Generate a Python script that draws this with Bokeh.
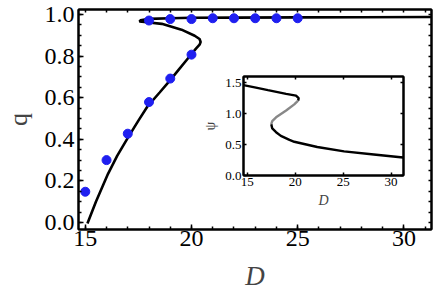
import numpy as np
from bokeh.plotting import figure
from bokeh.models import Range1d, FixedTicker, PrintfTickFormatter, LinearAxis
from bokeh.layouts import column
from bokeh.embed import file_html
from bokeh.resources import INLINE

# ---- data ----
curve_D = [15.1, 15.5, 16.07, 16.5, 17.0, 17.5, 17.94, 18.5, 18.96, 19.4, 19.8, 20.2, 20.38,
           20.43, 20.38, 20.15, 19.53, 18.6, 17.9, 17.55, 17.6, 18.0, 19.0, 20.0, 22.0, 25.0, 28.0, 31.3]
curve_q = [-0.005, 0.10, 0.234, 0.32, 0.407, 0.49, 0.56, 0.625, 0.68, 0.735, 0.785, 0.835, 0.855,
           0.868, 0.882, 0.898, 0.927, 0.955, 0.963, 0.967, 0.972, 0.979, 0.982, 0.984, 0.985, 0.986, 0.987, 0.988]

sim_D = [15, 16, 17, 18, 19, 20, 18, 19, 20, 21, 22, 23, 24, 25]
sim_q = [0.148, 0.30, 0.427, 0.579, 0.692, 0.807, 0.971, 0.978, 0.978, 0.982, 0.982, 0.982, 0.982, 0.982]

x_ticks = [15, 20, 25, 30]
y_ticks = [0.0, 0.2, 0.4, 0.6, 0.8, 1.0]

psi_up_D = [14.6, 15.9, 17.15, 19.05, 20.08, 20.36, 20.3]
psi_up = [1.46, 1.42, 1.38, 1.32, 1.29, 1.25, 1.21]
psi_mid_D = [20.3, 19.9, 19.05, 18.0, 17.6, 17.5]
psi_mid = [1.21, 1.15, 1.05, 0.94, 0.88, 0.83]
psi_low_D = [17.5, 17.6, 18.0, 18.5, 19.4, 19.9, 22.3, 25.1, 28.2, 31.0, 31.3]
psi_low = [0.83, 0.76, 0.70, 0.64, 0.575, 0.545, 0.46, 0.39, 0.34, 0.295, 0.29]

inset_x_ticks = [15, 20, 25, 30]
inset_y_ticks = [0.0, 0.5, 1.0, 1.5]

FONT = "'Liberation Serif', 'Times New Roman', serif"

MAIN_LEFT = 77     # left border of the main plot (the column aligns the inset to it)
MAIN_RIGHT = 5


def style_axis(ax, ticks, minor, fmt, size, tin=5, tmin=3):
    ax.ticker = FixedTicker(ticks=ticks, minor_ticks=minor)
    ax.formatter = PrintfTickFormatter(format=fmt)
    ax.major_tick_in = tin
    ax.major_tick_out = 0
    ax.minor_tick_in = tmin
    ax.minor_tick_out = 0
    ax.major_tick_line_width = 1.5
    ax.minor_tick_line_width = 1.5
    ax.axis_line_color = "black"
    ax.axis_line_width = 2
    ax.major_tick_line_color = "black"
    ax.minor_tick_line_color = "black"
    ax.major_label_text_font = FONT
    ax.major_label_text_color = "black"
    ax.major_label_text_font_size = size


def mirror_axis(ax, positions, tlen):
    ax.ticker = FixedTicker(ticks=[], minor_ticks=positions)
    ax.minor_tick_in = tlen
    ax.minor_tick_out = 0
    ax.minor_tick_line_width = 1.5
    ax.minor_tick_line_color = "black"
    ax.major_tick_in = 0
    ax.major_tick_out = 0
    ax.axis_line_color = "black"
    ax.axis_line_width = 2
    ax.major_label_standoff = 0


# ---- main plot ----
p = figure(width=436, height=299, x_range=Range1d(14.68, 31.3), y_range=Range1d(-0.0335, 1.024),
           output_backend="svg", toolbar_location=None,
           min_border_left=MAIN_LEFT, min_border_right=MAIN_RIGHT, min_border_top=9, min_border_bottom=70)
p.xgrid.visible = False
p.ygrid.visible = False
p.outline_line_color = "black"
p.outline_line_width = 2
p.background_fill_color = "white"

xminor = list(np.arange(14, 32, 1.0))
yminor = list(np.round(np.arange(-0.05, 1.05, 0.05), 3))

bx = p.below[0]
style_axis(bx, x_ticks, xminor, "%d", "24px")
bx.major_label_standoff = 1
bx.axis_label = "D"
bx.axis_label_text_font = FONT
bx.axis_label_text_font_style = "italic"
bx.axis_label_text_font_size = "27px"
bx.axis_label_standoff = 12

ly = p.left[0]
style_axis(ly, y_ticks, yminor, "%.1f", "24px")
ly.major_label_standoff = 4
ly.axis_label = "q"
ly.axis_label_text_font = FONT
ly.axis_label_text_font_style = "normal"
ly.axis_label_text_font_size = "26px"
ly.axis_label_standoff = 9

tx = LinearAxis()
mirror_axis(tx, xminor, 3)
p.add_layout(tx, "above")
ry = LinearAxis()
mirror_axis(ry, yminor, 3)
p.add_layout(ry, "right")

p.line(curve_D, curve_q, line_color="black", line_width=2.6)
p.scatter(sim_D, sim_q, size=9, fill_color="#1f1ff0", line_color="#1f1ff0")

# ---- inset (frame 161 px wide, 99 px tall) ----
INSET_FRAME_W = 161
q = figure(width=MAIN_LEFT + INSET_FRAME_W + MAIN_RIGHT, height=145,
           x_range=Range1d(14.6, 31.3), y_range=Range1d(0.0, 1.6),
           output_backend="svg", toolbar_location=None,
           min_border_left=45, min_border_right=4, min_border_top=4, min_border_bottom=42)
q.xgrid.visible = False
q.ygrid.visible = False
q.outline_line_color = "black"
q.outline_line_width = 2
q.background_fill_color = "white"
q.border_fill_alpha = 0

ibx = q.below[0]
style_axis(ibx, inset_x_ticks, [], "%d", "13px", tin=3, tmin=2)
ibx.major_label_standoff = 2
ibx.axis_label = "D"
ibx.axis_label_text_font = FONT
ibx.axis_label_text_font_style = "italic"
ibx.axis_label_text_font_size = "14px"
ibx.axis_label_standoff = 4

ily = q.left[0]
style_axis(ily, inset_y_ticks, [], "%.1f", "13px", tin=3, tmin=2)
ily.major_label_standoff = 2
ily.axis_label = "ψ"
ily.axis_label_text_font = FONT
ily.axis_label_text_font_style = "normal"
ily.axis_label_text_font_size = "14px"
ily.axis_label_standoff = 4

itx = LinearAxis()
mirror_axis(itx, inset_x_ticks, 3)
q.add_layout(itx, "above")
iry = LinearAxis()
mirror_axis(iry, inset_y_ticks, 3)
q.add_layout(iry, "right")

q.line(psi_up_D, psi_up, line_color="black", line_width=2.4)
q.line(psi_mid_D, psi_mid, line_color="#888888", line_width=2.4)
q.line(psi_low_D, psi_low, line_color="black", line_width=2.4)

q.styles = {"position": "absolute", "left": f"{242 - MAIN_LEFT}px", "top": "72px"}

layout = column(p, q)
open("out.html", "w").write(file_html(layout, INLINE))
